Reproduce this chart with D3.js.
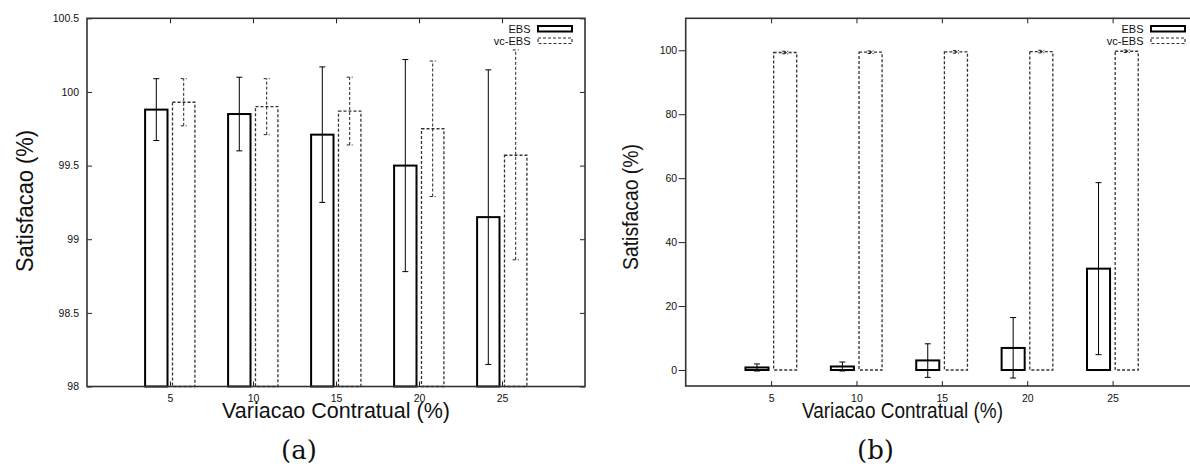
<!DOCTYPE html>
<html>
<head>
<meta charset="utf-8">
<script src="https://cdn.jsdelivr.net/npm/d3@7"></script>
<style>
  body { margin: 0; background: #fff; }
  svg { display: block; }
  text { font-family: "Liberation Sans", Arial, sans-serif; fill: #111; }
</style>
</head>
<body>
<script>
// valores
var variacao = [5, 10, 15, 20, 25];

// (a) zoom na faixa 98 - 100.5
var ebsA = [99.88, 99.85, 99.71, 99.50, 99.15];
var ebsALow = [99.67, 99.60, 99.25, 98.78, 98.15];
var ebsAHigh = [100.09, 100.10, 100.17, 100.22, 100.15];
var vcA = [99.93, 99.90, 99.87, 99.75, 99.57];
var vcALow = [99.77, 99.71, 99.64, 99.29, 98.86];
var vcAHigh = [100.09, 100.09, 100.10, 100.21, 100.285];

// (b) escala completa
var ebsB = [0.8, 1.1, 3.0, 6.9, 31.7];
var ebsBLow = [-0.3, -0.3, -2.3, -2.5, 4.8];
var ebsBHigh = [1.9, 2.5, 8.2, 16.4, 58.6];
var vcB = [99.3, 99.4, 99.5, 99.6, 99.7];
var vcBLow = [98.9, 99.0, 99.1, 99.2, 99.3];
var vcBHigh = [99.7, 99.8, 99.9, 100.0, 100.1];

var yTicksA = [98, 98.5, 99, 99.5, 100, 100.5];
var yTicksB = [0, 20, 40, 60, 80, 100];

var w = 1190, h = 468;

var svg = d3.select("body").append("svg")
    .attr("width", w)
    .attr("height", h);

function panel(opt) {
    var x = d3.scaleLinear().domain([0, 30]).range([opt.left, opt.right]);
    var y = d3.scaleLinear().domain(opt.yDomain).range([opt.bottom, opt.top]);
    var g = svg.append("g");
    var bw = 1.35, off = 0.825;

    // vc-EBS (tracejado)
    g.append("g").selectAll("rect")
        .data(variacao)
        .enter().append("rect")
        .attr("x", function(d) { return x(d + off - bw / 2); })
        .attr("width", x(bw) - x(0))
        .attr("y", function(d, i) { return y(opt.vc[i]); })
        .attr("height", function(d, i) { return y(opt.base) - y(opt.vc[i]); })
        .attr("fill", "none")
        .attr("stroke", "#333")
        .attr("stroke-width", 1.3)
        .attr("stroke-dasharray", "3,2");

    // EBS (solido)
    g.append("g").selectAll("rect")
        .data(variacao)
        .enter().append("rect")
        .attr("x", function(d) { return x(d - off - bw / 2); })
        .attr("width", x(bw) - x(0))
        .attr("y", function(d, i) { return y(opt.ebs[i]); })
        .attr("height", function(d, i) { return y(opt.base) - y(opt.ebs[i]); })
        .attr("fill", "none")
        .attr("stroke", "#000")
        .attr("stroke-width", 2);

    // barras de erro
    function errBars(cx, low, high, dash) {
        var eg = g.append("g")
            .attr("stroke", dash ? "#222" : "#000")
            .attr("stroke-width", 1)
            .attr("stroke-dasharray", dash ? "3,2" : null);
        variacao.forEach(function(d, i) {
            var px = x(cx(d));
            eg.append("line").attr("x1", px).attr("x2", px)
                .attr("y1", y(low[i])).attr("y2", y(high[i]));
            [low[i], high[i]].forEach(function(v) {
                eg.append("line").attr("x1", px - 3).attr("x2", px + 3)
                    .attr("y1", y(v)).attr("y2", y(v))
                    .attr("stroke-dasharray", null);
            });
        });
    }
    errBars(function(d) { return d - off; }, opt.ebsLow, opt.ebsHigh, false);
    errBars(function(d) { return d + off; }, opt.vcLow, opt.vcHigh, true);

    // eixos
    var fmt = function(d) { return String(d); };
    g.append("g")
        .attr("transform", "translate(0," + opt.bottom + ")")
        .call(d3.axisBottom(x).tickValues(variacao).tickSize(-5).tickPadding(8.5).tickFormat(fmt));
    g.append("g")
        .attr("transform", "translate(0," + opt.top + ")")
        .call(d3.axisTop(x).tickValues(variacao).tickSize(-5).tickFormat(""));
    g.append("g")
        .attr("transform", "translate(" + opt.left + ",0)")
        .call(d3.axisLeft(y).tickValues(opt.yTicks).tickSize(opt.yTickSize)
            .tickPadding(opt.yTickPad).tickFormat(fmt));
    if (opt.rightTicks) {
        g.append("g")
            .attr("transform", "translate(" + opt.right + ",0)")
            .call(d3.axisRight(y).tickValues(opt.yTicks).tickSize(-5).tickFormat(""));
    }
    g.selectAll(".domain").remove();
    g.selectAll(".tick line").attr("stroke", "#222");
    g.selectAll(".tick text")
        .attr("font-size", "10.5px")
        .attr("fill", "#111");

    g.append("rect")
        .attr("x", opt.left).attr("y", opt.top)
        .attr("width", opt.right - opt.left)
        .attr("height", opt.bottom - opt.top)
        .attr("fill", "none")
        .attr("stroke", "#333")
        .attr("stroke-width", 1.6);

    // legenda
    var lg = g.append("g");
    var names = ["EBS", "vc-EBS"];
    names.forEach(function(n, i) {
        var cy = 26 + i * 12;
        lg.append("text")
            .attr("x", opt.right - 54.5)
            .attr("y", cy + 6.8)
            .attr("text-anchor", "end")
            .attr("font-size", "11px")
            .text(n);
        lg.append("rect")
            .attr("x", opt.right - 47)
            .attr("y", cy)
            .attr("width", 34)
            .attr("height", 5.5)
            .attr("fill", "none")
            .attr("stroke", i == 0 ? "#000" : "#333")
            .attr("stroke-width", i == 0 ? 2 : 1.2)
            .attr("stroke-dasharray", i == 0 ? null : "3,2");
    });

    // titulos
    g.append("text")
        .attr("x", opt.xlabelX)
        .attr("y", 418)
        .attr("text-anchor", "middle")
        .attr("font-size", "22px")
        .attr("textLength", opt.xlabelLen)
        .attr("lengthAdjust", "spacingAndGlyphs")
        .text("Variacao Contratual (%)");
    g.append("text")
        .attr("transform", "translate(" + opt.ylabelX + "," + opt.ylabelY + ") rotate(-90)")
        .attr("text-anchor", "middle")
        .attr("font-size", opt.ylabelSize + "px")
        .attr("textLength", opt.ylabelLen)
        .attr("lengthAdjust", "spacingAndGlyphs")
        .text("Satisfacao (%)");
    g.append("text")
        .attr("x", opt.captionX)
        .attr("y", 459)
        .attr("text-anchor", "middle")
        .style("font-family", "'DejaVu Serif', serif")
        .attr("font-size", "26px")
        .text(opt.caption);
}

panel({
    left: 87, right: 585, top: 18.3, bottom: 386.5,
    yDomain: [98, 100.5], base: 98, yTicks: yTicksA,
    ebs: ebsA, ebsLow: ebsALow, ebsHigh: ebsAHigh,
    vc: vcA, vcLow: vcALow, vcHigh: vcAHigh,
    yTickSize: -5, yTickPad: 8, rightTicks: true,
    xlabelX: 336, xlabelLen: 228,
    ylabelX: 33, ylabelY: 201, ylabelSize: 24, ylabelLen: 142,
    captionX: 299, caption: "(a)"
});

panel({
    left: 685.7, right: 1198, top: 18.3, bottom: 386,
    yDomain: [-5, 110], base: 0, yTicks: yTicksB,
    ebs: ebsB, ebsLow: ebsBLow, ebsHigh: ebsBHigh,
    vc: vcB, vcLow: vcBLow, vcHigh: vcBHigh,
    yTickSize: 7, yTickPad: 1.5, rightTicks: false,
    xlabelX: 902.5, xlabelLen: 201,
    ylabelX: 638, ylabelY: 207, ylabelSize: 22, ylabelLen: 126,
    captionX: 875.5, caption: "(b)"
});
</script>
</body>
</html>
